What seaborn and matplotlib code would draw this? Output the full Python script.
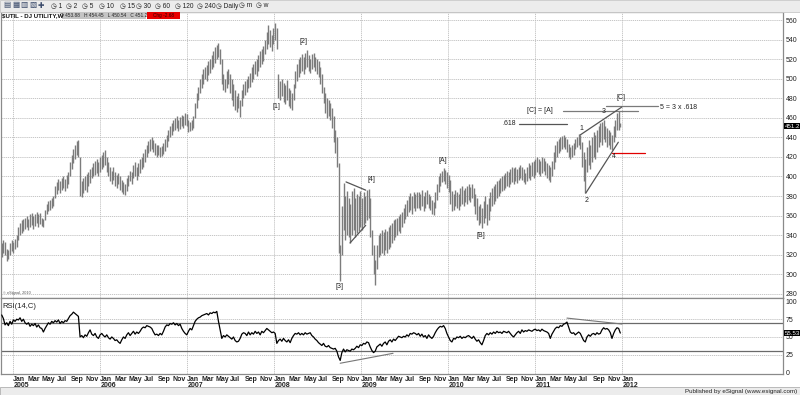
import numpy as np
import pandas as pd
import matplotlib
matplotlib.use("Agg")
import matplotlib.pyplot as plt
import matplotlib.dates as mdates
import matplotlib.transforms as mtrans
from matplotlib.patches import Rectangle
import seaborn as sns

############################################################
##### Data (weekly bars)
############################################################

first_week = "2004-11-15"

bar_low = [
    318, 322, 320, 314, 316, 320, 324, 322, 326, 328,
    335, 340, 342, 344, 346, 348, 345, 348, 350, 346,
    349, 352, 348, 351, 349, 348, 355, 362, 365, 366,
    368, 370, 378, 382, 386, 383, 386, 388, 385, 388,
    392, 400, 408, 414, 418, 422, 420, 380, 379, 383,
    386, 384, 390, 393, 398, 400, 402, 404, 400, 405,
    408, 410, 412, 405, 400, 395, 392, 396, 390, 388,
    392, 386, 384, 382, 381, 385, 390, 395, 392, 398,
    400, 396, 400, 404, 408, 410, 415, 420, 424, 426,
    428, 425, 422, 420, 422, 420, 421, 423, 426, 430,
    436, 440, 442, 446, 448, 450, 447, 449, 452, 450,
    453, 452, 445, 446, 448, 450, 460, 470, 478, 485,
    490, 495, 500, 498, 504, 506, 510, 512, 516, 520,
    522, 515, 495, 488, 486, 490, 495, 485, 478, 472,
    468, 466, 470, 461, 472, 480, 483, 486, 490, 492,
    497, 500, 505, 503, 508, 512, 515, 518, 525, 530,
    535, 532, 528, 535, 540, 530, 480, 478, 482, 476,
    474, 478, 472, 470, 468, 478, 490, 498, 502, 506,
    508, 505, 510, 512, 508, 506, 510, 512, 508, 505,
    502, 495, 485, 475, 465, 460, 462, 458, 450, 435,
    424, 410, 322, 293, 320, 345, 335, 340, 338, 332,
    340, 345, 338, 342, 344, 348, 345, 350, 352, 355,
    358, 338, 320, 300, 289, 305, 318, 320, 322, 320,
    325, 322, 326, 328, 332, 335, 338, 340, 344, 342,
    348, 352, 356, 360, 364, 366, 362, 368, 365, 368,
    368, 366, 370, 365, 368, 372, 368, 366, 362, 361,
    368, 376, 384, 390, 394, 395, 392, 388, 384, 372,
    365, 366, 370, 368, 366, 370, 372, 370, 374, 372,
    376, 374, 378, 370, 362, 355, 350, 352, 347, 352,
    358, 350, 355, 365, 370, 372, 375, 378, 380, 383,
    385, 386, 388, 390, 389, 392, 394, 392, 395, 393,
    396, 398, 396, 394, 392, 395, 398, 396, 400, 398,
    402, 405, 403, 400, 404, 406, 402, 398, 396, 394,
    400, 408, 415, 420, 424, 426, 428, 430, 428, 425,
    420, 418, 420, 422, 428, 430, 432, 428, 410, 395,
    383, 405, 412, 408, 415, 420, 418, 425, 430, 435,
    432, 438, 435, 430, 432, 428, 427, 435, 440, 448,
    448, 450.54,
]

bar_high = [
    332, 335, 333, 326, 325, 332, 335, 333, 336, 340,
    348, 352, 355, 356, 358, 360, 357, 362, 363, 360,
    362, 364, 362, 363, 358, 356, 366, 372, 375, 376,
    378, 380, 390, 394, 397, 395, 398, 400, 397, 401,
    405, 415, 422, 428, 432, 436, 437, 420, 395, 398,
    400, 403, 405, 408, 410, 414, 416, 418, 415, 420,
    422, 425, 427, 420, 415, 410, 406, 410, 405, 402,
    404, 400, 396, 394, 392, 398, 402, 406, 405, 412,
    415, 410, 414, 418, 420, 424, 428, 432, 436, 438,
    440, 437, 434, 432, 432, 430, 431, 434, 438, 442,
    448, 452, 455, 458, 460, 462, 458, 461, 463, 462,
    465, 464, 458, 456, 458, 462, 475, 485, 492, 500,
    505, 510, 512, 514, 518, 520, 524, 528, 532, 534,
    536, 530, 520, 505, 500, 508, 510, 505, 500, 495,
    488, 482, 485, 478, 488, 495, 498, 500, 503, 506,
    512, 515, 518, 520, 524, 528, 530, 533, 540, 548,
    555, 550, 545, 552, 557, 552, 505, 498, 500, 496,
    494, 499, 490, 488, 485, 495, 508, 515, 520, 522,
    525, 522, 526, 529, 524, 520, 525, 526, 522, 520,
    518, 512, 505, 492, 485, 480, 478, 475, 470, 462,
    448, 440, 414, 330, 370, 393, 380, 385, 378, 372,
    385, 388, 378, 382, 380, 385, 378, 384, 380, 386,
    387, 378, 345, 330, 315, 330, 340, 342, 345, 343,
    346, 344, 348, 350, 352, 355, 356, 358, 360, 362,
    364, 368, 372, 376, 380, 383, 380, 384, 382, 384,
    384, 382, 386, 380, 384, 386, 382, 380, 376, 374,
    384, 392, 400, 404, 406, 409, 407, 405, 402, 396,
    385, 382, 386, 384, 382, 388, 390, 386, 388, 390,
    392, 389, 392, 388, 382, 378, 370, 372, 368, 375,
    380, 372, 378, 384, 388, 390, 392, 395, 396, 398,
    400, 402, 404, 406, 405, 408, 410, 409, 410, 408,
    410, 412, 410, 408, 404, 410, 414, 412, 415, 416,
    418, 420, 418, 416, 420, 419, 416, 414, 412, 410,
    416, 425, 432, 436, 438, 440, 441, 442, 440, 438,
    433, 430, 432, 434, 438, 440, 443, 442, 435, 425,
    418, 430, 437, 432, 440, 445, 442, 448, 452, 455,
    456, 458, 452, 450, 448, 445, 442, 452, 458, 465,
    467, 454.45,
]

rsi_values = [
    81, 76, 67, 70, 66, 72, 68, 74, 72, 75,
    74, 77, 72, 75, 70, 68, 70, 65, 68, 66,
    69, 64, 67, 63, 62, 57, 62, 66, 70, 68,
    72, 70, 73, 71, 74, 69, 72, 70, 73, 72,
    76, 80, 82, 85, 83, 81, 79, 50, 52, 49,
    53, 51, 56, 60, 54, 52, 55, 50, 48, 53,
    55, 52, 50, 53, 49, 47, 50, 48, 45, 46,
    43, 41, 46, 50, 48, 53, 56, 52, 55, 58,
    54, 57, 55, 58, 62, 64, 63, 66, 65, 64,
    62, 57, 53, 54, 52, 55, 53, 58, 64, 67,
    66, 69, 68, 70, 67, 69, 66, 68, 62, 58,
    55, 53, 58, 62, 60, 66, 72, 75, 77, 78,
    80, 81, 82, 83, 81, 84, 83, 85, 84, 86,
    72, 60, 48, 52, 50, 53, 51, 49, 47, 50,
    45, 43, 44, 48, 54, 56, 55, 52, 57, 53,
    56, 54, 58, 55, 57, 53, 58, 56, 59, 62,
    60, 58, 56, 57, 55, 41, 45, 47, 44, 48,
    45, 43, 46, 42, 48, 52, 55, 54, 56, 53,
    55, 53, 56, 54, 55, 56, 52, 50, 47, 45,
    42, 40, 38, 41, 37, 36, 38, 35, 34, 33,
    34, 30, 22, 17, 28, 33, 29, 32, 31, 30,
    33, 32, 34, 37, 35, 39, 38, 41, 40, 43,
    42, 36, 31, 28, 30, 36, 38, 40, 37, 41,
    43, 39, 44, 46, 43, 47, 45, 48, 51, 50,
    49, 51, 50, 53, 51, 55, 54, 56, 55, 53,
    55, 51, 54, 50, 52, 48, 53, 50, 48, 51,
    56, 60, 63, 65, 64, 66, 62, 55, 50, 45,
    43, 48, 47, 50, 49, 51, 48, 50, 49, 51,
    52, 50, 48, 51, 47, 44, 46, 42, 39, 45,
    52, 55, 53, 56, 54, 57, 55, 58, 56, 57,
    55, 58, 57, 56, 58, 55, 52, 50, 53, 56,
    58, 55, 60, 57, 59, 58, 60, 59, 58, 60,
    61, 59, 60, 58, 61, 59, 58, 57, 55, 48,
    54, 58, 62, 64, 63, 66, 65, 68, 69, 71,
    64, 57, 55, 56, 53, 55, 57, 55, 50, 45,
    43, 50, 53, 51, 54, 55, 53, 56, 54, 55,
    60, 63, 61, 62, 60, 56, 48, 55, 60, 63,
    62, 55.53,
]

last_close = 451.2
last_rsi = 55.53
ohlc_text = "O 453.88   H 454.45   L 450.54   C 451.2"
chg_text = "Chg -2.68"

price_ticks = list(range(280, 561, 20))
rsi_ticks = [0, 25, 50, 75, 100]
rsi_bands = [70, 30]
month_names = ["Jan", "Mar", "May", "Jul", "Sep", "Nov"]

# Elliott wave labels: (text, week index, price)
wave_labels = [
    ("[1]", 165, 472), ("[2]", 181, 538.5), ("[3]", 202.3, 287),
    ("[4]", 221.5, 397), ("[A]", 264.7, 416), ("[B]", 287.5, 340),
    ("[C]", 371.5, 481), ("1", 347.5, 449.5), ("2", 350.5, 375),
    ("3", 361.3, 466), ("4", 367.3, 420),
]

# drawn lines: (week0, price0, week1, price1, color)
price_lines = [
    (362.4, 472, 393.6, 472, "#7a7a7a"),
    (336.6, 467, 381.6, 467, "#7a7a7a"),
    (310.3, 453.7, 339.0, 453.7, "#555555"),
    (366.0, 424, 385.9, 424, "#e00000"),
    (346.9, 442.4, 371.9, 471, "#555555"),
    (350.3, 383, 369.8, 435, "#555555"),
    (206.5, 394.4, 218.3, 386, "#555555"),
    (208.9, 332, 218.3, 350, "#555555"),
]
line_texts = [(".618", 304.3, 454), ("[C] = [A]", 323.0, 467.5), ("5 = 3 x .618", 405.7, 470.5)]
rsi_lines = [(203, 13, 234.7, 27), (339, 76.6, 372, 68.2)]

toolbar_labels = ["1", "2", "5", "10", "15", "30", "60", "120", "240", "Daily", "m", "w"]

############################################################
##### Plot
############################################################

sns.set_style("white")
plt.rcParams["font.family"] = ["Liberation Sans", "DejaVu Sans"]

week_dates = pd.date_range(first_week, periods=len(bar_low), freq="7D")
x_bars = mdates.date2num(week_dates)


def wk(i):
    return mdates.date2num(pd.Timestamp(first_week) + pd.Timedelta(days=7 * i))


fig = plt.figure(figsize=(8, 3.95), dpi=100)
ax = fig.add_axes([0.00125, 0.2456, 0.9775, 0.7240])
ax2 = fig.add_axes([0.00125, 0.0532, 0.9775, 0.1924], sharex=ax)

xl = mdates.date2num(pd.Timestamp("2004-11-12"))
xr = mdates.date2num(pd.Timestamp("2013-11-08"))
ax.set_xlim(xl, xr)
ax.set_ylim(275.7, 568.2)
ax2.set_ylim(-2.1, 104.9)

grid_kw = dict(color="#bdbdbd", lw=0.6, ls=(0, (1.5, 1)), zorder=0)
years = pd.date_range("2005-01-01", "2012-01-01", freq="YS")
months = pd.date_range("2004-12-01", "2011-12-01", freq="MS")
for a in (ax, ax2):
    for y in years:
        a.axvline(mdates.date2num(y), **grid_kw)
for p in price_ticks:
    ax.axhline(p, **grid_kw)
for r in [25, 50, 75]:
    ax2.axhline(r, **grid_kw)

# minor dot grid
mx, my = np.meshgrid(mdates.date2num(months), np.arange(290, 560, 20))
ax.scatter(mx.ravel(), my.ravel(), s=0.5, marker="s", color="#a8a8a8", lw=0, zorder=0)
mx2, my2 = np.meshgrid(mdates.date2num(months), [12.5, 37.5, 62.5, 87.5])
ax2.scatter(mx2.ravel(), my2.ravel(), s=0.5, marker="s", color="#a8a8a8", lw=0, zorder=0)

# price bars
ax.vlines(x_bars, bar_low, bar_high, color="#7c7c7c", lw=1.0, zorder=2)

for x0, y0, x1, y1, c in price_lines:
    ax.plot([wk(x0), wk(x1)], [y0, y1], color=c, lw=0.9, zorder=3)
for t, i, p in line_texts:
    ax.text(wk(i), p, t, fontsize=5, ha="center", va="center", color="#222222")
for t, i, p in wave_labels:
    ax.text(wk(i), p, t, fontsize=5, ha="center", va="center", color="#222222", zorder=4)

# RSI
rsi_df = pd.DataFrame({"date": x_bars, "rsi": rsi_values})
sns.lineplot(data=rsi_df, x="date", y="rsi", ax=ax2, color="black", lw=0.9, zorder=3)
for r in rsi_bands:
    ax2.axhline(r, color="#6a6a6a", lw=0.9, zorder=1)
for x0, y0, x1, y1 in rsi_lines:
    ax2.plot([wk(x0), wk(x1)], [y0, y1], color="#777777", lw=0.8, zorder=2)

# axes styling
for a, ticks in ((ax, price_ticks), (ax2, rsi_ticks)):
    a.set_xlabel("")
    a.set_ylabel("")
    a.yaxis.tick_right()
    a.set_yticks(ticks)
    a.set_yticklabels([str(t) for t in ticks])
    a.tick_params(axis="y", length=0, pad=2, labelsize=5, labelcolor="#222222")
    a.tick_params(axis="x", bottom=False, labelbottom=False)
    for s in a.spines.values():
        s.set_color("#8a8a8a")
        s.set_linewidth(0.9)

# value tags on the right axis
tag_kw = dict(fontsize=4.4, color="white", ha="left", va="center",
              bbox=dict(boxstyle="square,pad=0.08", fc="black", ec="none"))
ax.text(1.002, last_close, f"{last_close:.1f}",
        transform=mtrans.blended_transform_factory(ax.transAxes, ax.transData), **tag_kw)
ax2.text(1.002, last_rsi, f"{last_rsi:.2f}",
         transform=mtrans.blended_transform_factory(ax2.transAxes, ax2.transData), **tag_kw)

# month / year labels
lab_tr = mtrans.blended_transform_factory(ax2.transData, ax2.transAxes)
for m in pd.date_range("2005-01-01", "2012-01-01", freq="2MS"):
    xm = mdates.date2num(m)
    ax2.text(xm + 2, -0.02, month_names[(m.month - 1) // 2], transform=lab_tr,
             fontsize=5, fontweight="bold", ha="left", va="top", color="#222222")
    if m.month == 1:
        ax2.text(xm + 2, -0.11, str(m.year), transform=lab_tr,
                 fontsize=5, fontweight="bold", ha="left", va="top", color="#222222")

ax2.text(0.002, 0.93, "RSI(14,C)", transform=ax2.transAxes, fontsize=5.5, ha="left", va="top", color="#222222")
ax.text(0.003, 0.012, "© eSignal, 2010", transform=ax.transAxes, fontsize=2.8, ha="left", va="bottom", color="#555555")


# window chrome: toolbar, title box, status bar
def fx(px):
    return px / 800


def fy(py):
    return 1 - py / 395


fig.patches.append(Rectangle((0, fy(11.5)), 1, 11.5 / 395, transform=fig.transFigure, fc="#ececec", ec="#c8c8c8", lw=0.6))
fig.patches.append(Rectangle((0, 0), 1, fy(387), transform=fig.transFigure, fc="#ececec", ec="#b0b0b0", lw=0.6))
icons = ["▤", "▦", "▥", "▧", "✚"]
for k, ic in enumerate(icons):
    fig.text(fx(7 + 8.5 * k), fy(6), ic, fontsize=5.5, ha="center", va="center", color="#3a4a6a")
tool_x = [51, 66, 82, 99, 120, 136, 155, 175, 197, 216, 239, 256]
for t, px in zip(toolbar_labels, tool_x):
    fig.text(fx(px), fy(6), "◷ " + t, fontsize=4.8, ha="left", va="center", color="#222222")

fig.text(fx(2), fy(15.5), "$UTIL - DJ UTILITY,W", fontsize=4.4, fontweight="bold", ha="left", va="center", color="#111111")
fig.patches.append(Rectangle((fx(62), fy(19)), fx(84), 7 / 395, transform=fig.transFigure, fc="#c4c4c4", ec="none"))
fig.text(fx(104), fy(15.5), ohlc_text, fontsize=3.4, ha="center", va="center", color="#222222")
fig.patches.append(Rectangle((fx(147), fy(19)), fx(33), 7 / 395, transform=fig.transFigure, fc="#e80000", ec="none"))
fig.text(fx(163.5), fy(15.5), chg_text, fontsize=3.4, ha="center", va="center", color="#330000")
fig.text(fx(797), fy(391), "Published by eSignal (www.esignal.com)", fontsize=4.5, ha="right", va="center", color="#222222")

fig.savefig("out.png", dpi=100)
